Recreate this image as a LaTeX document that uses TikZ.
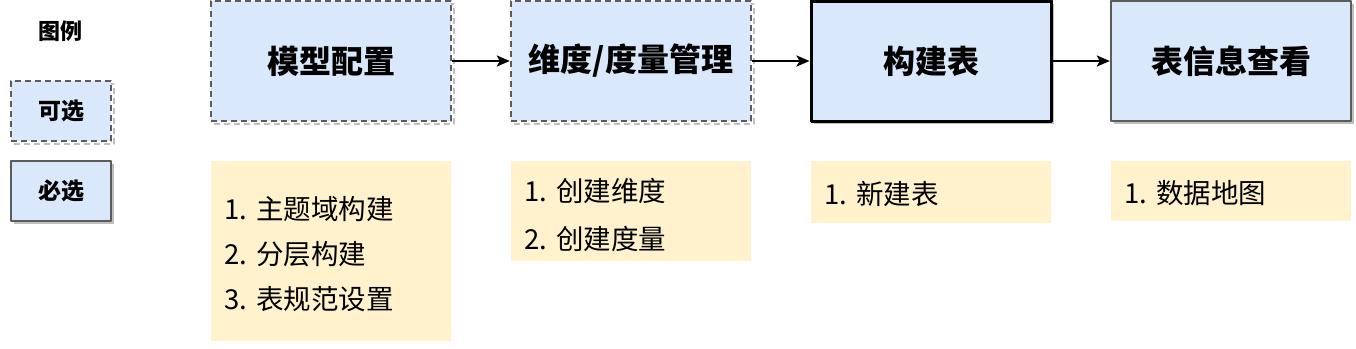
\documentclass[tikz,border=0pt]{standalone}
\usepackage{fontspec}
\setmainfont{Noto Sans CJK SC}
\usetikzlibrary{arrows.meta,shadows}
\definecolor{boxblue}{HTML}{DAE8FC}
\definecolor{noteyellow}{HTML}{FFF2CC}
\definecolor{edgegray}{HTML}{5C5C5C}
\definecolor{shadowgray}{HTML}{BFBFBF}
\newcommand{\lift}[1]{\rule{0pt}{#1}}

\begin{document}
\begin{tikzpicture}[x=1pt, y=-1pt, line join=round,
    solidshadow/.style={drop shadow={shadow xshift=3pt, shadow yshift=-3pt, fill=shadowgray, opacity=1}},
    dashshadow/.style={drop shadow={shadow xshift=3pt, shadow yshift=-3pt, fill=none, draw=shadowgray, line width=2.4pt, dash pattern=on 6pt off 4pt, opacity=1}},
    stage/.style={rectangle, fill=boxblue, draw=edgegray, line width=2.4pt, minimum width=240pt, minimum height=120pt, inner sep=0pt, font=\fontsize{32}{36}\selectfont\bfseries},
    optstage/.style={stage, dash pattern=on 6pt off 4pt, dashshadow},
    reqstage/.style={stage, solidshadow},
    legendbox/.style={minimum width=100pt, minimum height=60pt, font=\fontsize{23}{28}\selectfont\bfseries},
    note/.style={rectangle, fill=noteyellow, text width=214pt, inner xsep=13pt, inner ysep=0pt, align=left, font=\fontsize{27.5}{45}\selectfont},
    arr/.style={-{Stealth[length=13pt, width=11pt, inset=3pt]}, line width=2.4pt}]
  \useasboundingbox (0,0) rectangle (1356,348);

  % legend
  \node[font=\fontsize{22}{26}\selectfont\bfseries] (legend) at (60,31) {图例};
  \node[optstage, legendbox] (optional) at (61,111) {可选};
  \node[reqstage, legendbox] (required) at (61,191) {必选};

  % stages
  \node[optstage] (model) at (331,61) {模型配置};
  \node[optstage] (dimension) at (631,61) {维度/度量管理};
  \node[reqstage, draw=black, line width=3pt] (table) at (931,61) {构建表};
  \node[reqstage] (tableinfo) at (1231,61) {表信息查看};

  % notes below the stages
  \node[note, minimum height=180pt] (modelnote) at (331,251)
    {\lift{30pt}1.\ 主题域构建\\2.\ 分层构建\\3.\ 表规范设置};
  \node[note, minimum height=100pt, font=\fontsize{27.5}{48}\selectfont] (dimnote) at (631,211)
    {\lift{32pt}1.\ 创建维度\\2.\ 创建度量};
  \node[note, minimum height=62pt] (tablenote) at (931,192) {\lift{28pt}1.\ 新建表};
  \node[note, minimum height=60pt] (infonote) at (1231,191) {\lift{28pt}1.\ 数据地图};

  \draw[arr] (model.east) -- (dimension.west);
  \draw[arr] (dimension.east) -- (table.west);
  \draw[arr] (table.east) -- (tableinfo.west);
\end{tikzpicture}
\end{document}
